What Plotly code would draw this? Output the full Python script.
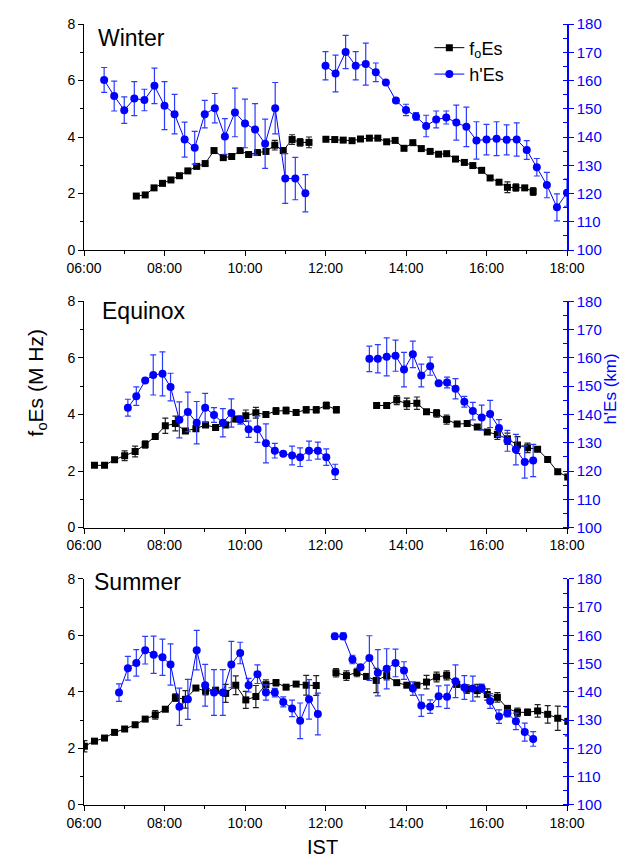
import plotly.graph_objects as go

# ---------------- data ----------------
ticks_hours = [6, 8, 10, 12, 14, 16, 18]
tick_labels = ["06:00", "08:00", "10:00", "12:00", "14:00", "16:00", "18:00"]
seasons = ["Winter", "Equinox", "Summer"]

# Winter
w_fo_t = [7.30, 7.52, 7.74, 7.95, 8.16, 8.37, 8.58, 8.80, 9.01, 9.23, 9.46, 9.67, 9.88, 10.09, 10.31, 10.52, 10.74, 10.95, 11.17, 11.37, 11.59, None,
          12.01, 12.23, 12.44, 12.66, 12.87, 13.09, 13.30, 13.52, 13.73, 13.95, 14.17, 14.38, 14.60, 14.81, 15.01, 15.23, 15.45, 15.66, 15.88, 16.09, 16.31, 16.52, 16.73, 16.95, 17.16]
w_fo = [1.91, 1.95, 2.20, 2.36, 2.48, 2.63, 2.80, 2.96, 3.06, 3.52, 3.27, 3.31, 3.52, 3.38, 3.45, 3.49, 3.71, 3.52, 3.91, 3.81, 3.81, None,
        3.92, 3.91, 3.89, 3.87, 3.93, 3.96, 3.96, 3.83, 3.88, 3.60, 3.80, 3.59, 3.49, 3.39, 3.41, 3.22, 3.10, 2.99, 2.82, 2.55, 2.40, 2.22, 2.21, 2.20, 2.07]
w_fo_err = [0.04, 0.04, 0.04, 0.04, 0.04, 0.04, 0.04, 0.04, 0.04, 0.04, 0.05, 0.04, 0.04, 0.05, 0.05, 0.08, 0.17, 0.10, 0.17, 0.13, 0.19, 0,
            0.04, 0.04, 0.04, 0.04, 0.04, 0.04, 0.04, 0.04, 0.04, 0.04, 0.04, 0.04, 0.04, 0.04, 0.04, 0.04, 0.04, 0.04, 0.04, 0.04, 0.04, 0.19, 0.13, 0.07, 0.14]
w_h_t = [6.50, 6.75, 7.00, 7.25, 7.50, 7.75, 8.00, 8.25, 8.50, 8.75, 9.00, 9.25, 9.50, 9.75, 10.00, 10.25, 10.50, 10.75, 11.00, 11.25, 11.50, None,
         12.00, 12.25, 12.50, 12.75, 13.00, 13.25, 13.50, 13.75, 14.00, 14.25, 14.50, 14.75, 15.00, 15.25, 15.50, 15.75, 16.00, 16.25, 16.50, 16.75, 17.00, 17.25, 17.50, 17.75, 18.00]
w_h = [160.2, 154.5, 149.5, 153.6, 153.1, 158.1, 151.1, 148.1, 139.1, 136.2, 148.1, 150.2, 140.2, 148.7, 144.8, 142.7, 137.6, 150.2, 125.3, 125.3, 120.1, None,
       165.2, 162.5, 170.1, 165.2, 165.8, 162.9, 159.3, 152.9, 149.6, 147.3, 143.9, 146.2, 146.9, 145.1, 143.6, 138.8, 139.1, 139.4, 139.0, 139.1, 135.4, 129.3, 123.0, 115.1, 120.3]
w_h_err = [4.4, 5.3, 4.7, 6.0, 3.8, 6.3, 8.5, 7.0, 6.2, 5.8, 4.9, 5.2, 6.3, 8.6, 8.6, 9.1, 8.7, 9.1, 8.8, 7.5, 6.6, 0,
           5.0, 6.5, 5.9, 5.0, 7.4, 3.3, 0, 0, 2.0, 1.3, 3.8, 3.0, 2.3, 6.2, 7.0, 6.6, 5.4, 6.0, 5.3, 5.9, 3.3, 3.1, 4.5, 4.8, 4.8]

# Equinox
e_fo_t = [6.26, 6.51, 6.76, 7.01, 7.27, 7.52, 7.77, 8.02, 8.27, 8.52, 8.78, 9.02, 9.27, 9.52, 9.77, 10.02, 10.27, 10.52, 10.77, 11.02, 11.27, 11.52, 11.77, 12.02, 12.27, None,
          13.27, 13.52, 13.77, 14.02, 14.27, 14.51, 14.76, 15.01, 15.27, 15.52, 15.77, 16.02, 16.27, 16.52, 16.77, 17.02, 17.27, 17.52, 17.77, 18.02]
e_fo = [2.20, 2.20, 2.40, 2.54, 2.69, 2.94, 3.22, 3.60, 3.68, 3.42, 3.50, 3.63, 3.54, 3.63, 3.84, 3.96, 4.06, 4.00, 4.12, 4.14, 4.07, 4.17, 4.17, 4.32, 4.17, None,
        4.32, 4.32, 4.51, 4.38, 4.40, 4.10, 4.04, 3.82, 3.66, 3.68, 3.56, 3.38, 3.29, 3.14, 2.92, 2.82, 2.77, 2.41, 1.97, 1.79]
e_fo_err = [0.05, 0.05, 0.05, 0.17, 0.19, 0.13, 0.05, 0.27, 0.26, 0.05, 0.10, 0.09, 0.05, 0.09, 0.09, 0.20, 0.19, 0.05, 0.12, 0.12, 0.05, 0.11, 0.11, 0.12, 0.11, 0,
            0.05, 0.05, 0.16, 0.20, 0.22, 0.05, 0.13, 0.16, 0.05, 0.05, 0.05, 0.05, 0.17, 0.20, 0.30, 0.17, 0.05, 0.05, 0.05, 0.05]
e_h_t = [7.09, 7.30, 7.52, 7.72, 7.95, 8.15, 8.37, 8.58, 8.80, 9.01, 9.23, 9.45, 9.66, 9.88, 10.09, 10.31, 10.52, 10.74, 10.95, 11.17, 11.37, 11.59, 11.81, 12.02, 12.24, None,
         13.09, 13.30, 13.52, 13.74, 13.95, 14.17, 14.38, 14.60, 14.81, 15.02, 15.23, 15.45, 15.66, 15.88, 16.09, 16.31, 16.52, 16.73, 16.95, 17.16]
e_h = [142.4, 146.5, 152.0, 154.0, 154.4, 149.7, 138.1, 140.9, 137.1, 142.4, 139.8, 137.1, 140.5, 138.1, 134.8, 134.8, 129.8, 127.2, 126.1, 125.5, 124.9, 127.2, 127.2, 124.9, 119.7, None,
       159.7, 159.7, 160.4, 160.8, 155.9, 161.3, 153.8, 157.1, 151.1, 151.3, 149.1, 144.5, 141.2, 138.9, 140.2, 135.2, 130.7, 127.6, 123.2, 123.7]
e_h_err = [3.0, 3.3, 0.5, 7.1, 7.8, 4.9, 6.4, 7.0, 7.5, 5.1, 2.6, 5.0, 5.0, 1.5, 2.9, 4.7, 6.9, 2.6, 0.5, 3.3, 3.3, 3.4, 3.0, 2.9, 2.7, 0,
           4.5, 5.0, 6.7, 5.5, 6.1, 4.7, 4.0, 3.2, 0.5, 1.9, 3.6, 1.9, 3.1, 4.4, 4.8, 3.0, 3.7, 5.4, 5.7, 5.7]

# Summer
s_fo_t = [6.01, 6.26, 6.51, 6.76, 7.01, 7.27, 7.52, 7.77, 8.02, 8.27, 8.52, 8.78, 9.02, 9.27, 9.52, 9.77, 10.02, 10.27, 10.52, 10.77, 11.02, 11.27, 11.52, 11.77, None,
          12.26, 12.52, 12.78, 13.02, 13.26, 13.52, 13.77, 14.02, 14.27, 14.51, 14.76, 15.01, 15.26, 15.51, 15.77, 16.02, 16.27, 16.52, 16.77, 17.02, 17.27, 17.52, 17.77, 18.02]
s_fo = [2.08, 2.26, 2.37, 2.57, 2.69, 2.84, 3.04, 3.19, 3.39, 3.80, 3.74, 4.14, 4.03, 4.06, 3.95, 4.24, 3.72, 3.84, 4.26, 4.33, 4.17, 4.28, 4.24, 4.23, None,
        4.68, 4.58, 4.69, 4.55, 4.41, 4.58, 4.33, 4.24, 4.24, 4.35, 4.53, 4.59, 4.27, 4.10, 4.05, 3.91, 3.81, 3.42, 3.28, 3.28, 3.33, 3.21, 3.07, 2.96]
s_fo_err = [0.20, 0.05, 0.05, 0.05, 0.05, 0.05, 0.05, 0.15, 0.05, 0.13, 0.31, 0.07, 0.13, 0.10, 0.32, 0.33, 0.30, 0.39, 0.17, 0.11, 0.05, 0.05, 0.35, 0.35, 0,
            0.15, 0.17, 0.15, 0.05, 0.43, 0.15, 0.05, 0.05, 0.05, 0.24, 0.17, 0.16, 0.10, 0.15, 0.22, 0.20, 0.17, 0.09, 0.15, 0.11, 0.22, 0.31, 0.43, 0.51]
s_h_t = [6.87, 7.09, 7.30, 7.52, 7.73, 7.95, 8.15, 8.37, 8.58, 8.80, 9.01, 9.23, 9.45, 9.66, 9.88, 10.09, 10.31, 10.52, 10.74, 10.95, 11.17, 11.37, 11.59, 11.81, None,
         12.23, 12.44, 12.67, 12.87, 13.09, 13.30, 13.52, 13.74, 13.95, 14.17, 14.38, 14.60, 14.81, 15.02, 15.23, 15.45, 15.66, 15.88, 16.09, 16.31, 16.52, 16.73, 16.95, 17.16]
s_h = [139.8, 148.4, 150.3, 154.8, 153.2, 152.3, 149.7, 134.8, 137.4, 154.8, 142.4, 139.8, 139.8, 149.7, 153.8, 142.4, 146.3, 139.8, 139.8, 136.5, 134.2, 129.8, 137.4, 132.2, None,
       159.7, 159.7, 151.5, 148.8, 152.0, 146.8, 148.2, 150.3, 147.6, 141.2, 135.2, 134.8, 138.5, 138.3, 143.8, 141.6, 141.2, 141.4, 136.8, 131.3, 132.5, 129.6, 125.8, 123.4]
s_h_err = [3.1, 4.2, 4.7, 4.9, 6.6, 6.4, 7.3, 6.6, 7.1, 7.0, 7.4, 8.1, 8.1, 8.2, 3.8, 2.4, 3.3, 2.7, 1.5, 1.8, 2.9, 6.3, 7.0, 7.4, 0,
           1.1, 1.2, 1.5, 0.5, 7.9, 8.2, 7.1, 4.9, 3.1, 2.4, 3.8, 2.4, 3.7, 4.1, 5.8, 4.2, 4.4, 1.4, 2.6, 2.4, 1.3, 2.9, 3.2, 2.6]

panels = [
    (w_fo_t, w_fo, w_fo_err, w_h_t, w_h, w_h_err),
    (e_fo_t, e_fo, e_fo_err, e_h_t, e_h, e_h_err),
    (s_fo_t, s_fo, s_fo_err, s_h_t, s_h, s_h_err),
]

# ---------------- figure ----------------
FONT = "Liberation Sans, Arial, sans-serif"
BLUE = "#0000FF"
EBLUE = "#2a3cff"
domains = [[0.7106, 1.0], [0.3553, 0.6447], [0.0, 0.2894]]

fig = go.Figure()
for i, (ft, fv, fe, ht, hv, he) in enumerate(panels):
    xa = "x" if i == 0 else f"x{i+1}"
    yl = "y" if i == 0 else f"y{2*i+1}"
    yr = f"y{2*i+2}"
    fig.add_trace(go.Scatter(
        x=ft, y=fv, xaxis=xa, yaxis=yl, mode="lines+markers",
        name="f<sub>o</sub>Es", showlegend=(i == 0), connectgaps=False,
        line=dict(color="black", width=1),
        marker=dict(symbol="square", size=7, color="black"),
        error_y=dict(type="data", array=fe, color="#222222", thickness=1.2, width=3),
    ))
    fig.add_trace(go.Scatter(
        x=ht, y=hv, xaxis=xa, yaxis=yr, mode="lines+markers",
        name="h'Es", showlegend=(i == 0), connectgaps=False,
        line=dict(color=BLUE, width=1),
        marker=dict(symbol="circle", size=8, color=BLUE),
        error_y=dict(type="data", array=he, color=EBLUE, thickness=1.2, width=3),
    ))

layout = dict(
    width=624, height=854,
    margin=dict(l=76, r=65, t=7, b=57),
    paper_bgcolor="white", plot_bgcolor="white",
    font=dict(family=FONT, size=14, color="black"),
    legend=dict(x=0.715, y=0.993, xanchor="left", yanchor="top",
                font=dict(size=18, family=FONT), bgcolor="rgba(0,0,0,0)",
                tracegroupgap=0, itemwidth=30),
)
for i, dom in enumerate(domains):
    xkey = "xaxis" if i == 0 else f"xaxis{i+1}"
    ylkey = "yaxis" if i == 0 else f"yaxis{2*i+1}"
    yrkey = f"yaxis{2*i+2}"
    yl_id = "y" if i == 0 else f"y{2*i+1}"
    xa_id = "x" if i == 0 else f"x{i+1}"
    layout[xkey] = dict(
        domain=[0, 1], anchor=yl_id, range=[6, 18],
        tickmode="array", tickvals=ticks_hours, ticktext=tick_labels,
        ticks="outside", ticklen=5, tickwidth=1, tickcolor="black",
        minor=dict(dtick=1, tick0=6, ticks="outside", ticklen=3, tickcolor="black"),
        showline=True, linecolor="black", linewidth=1,
        showgrid=False, zeroline=False, tickfont=dict(size=14, color="black"),
    )
    layout[ylkey] = dict(
        domain=dom, anchor=xa_id, range=[0, 8], dtick=2, tick0=0,
        ticks="outside", ticklen=5, tickcolor="black",
        minor=dict(dtick=1, ticks="outside", ticklen=3, tickcolor="black"),
        showline=True, linecolor="black", linewidth=1,
        showgrid=False, zeroline=False, tickfont=dict(size=14, color="black"),
    )
    layout[yrkey] = dict(
        overlaying=yl_id, anchor=xa_id, side="right", range=[100, 180], dtick=10, tick0=100,
        ticks="outside", ticklen=5, tickcolor=BLUE,
        minor=dict(dtick=5, ticks="inside", ticklen=4, tickcolor=BLUE),
        showline=True, linecolor=BLUE, linewidth=1.5,
        showgrid=False, zeroline=False, tickfont=dict(size=15, color=BLUE),
    )
fig.update_layout(**layout)

ann = [
    dict(text="Winter", x=0.024, y=0.982, xanchor="left", yanchor="middle"),
    dict(text="Equinox", x=0.033, y=0.633, xanchor="left", yanchor="middle"),
    dict(text="Summer", x=0.017, y=0.286, xanchor="left", yanchor="middle"),
]
for a in ann:
    fig.add_annotation(xref="paper", yref="paper", showarrow=False,
                       font=dict(size=23, family=FONT, color="black"), **a)

fig.add_annotation(xref="paper", yref="paper", x=-0.128, y=0.54, showarrow=False,
                   text="f<sub>o</sub>Es (M Hz)", textangle=-90,
                   font=dict(size=21, family=FONT, color="black"))
fig.add_annotation(xref="paper", yref="paper", x=1.113, y=0.532, showarrow=False,
                   text="h'Es (km)", textangle=-90,
                   font=dict(size=17, family=FONT, color=BLUE))
fig.add_annotation(xref="paper", yref="paper", x=0.493, y=-0.054, showarrow=False,
                   text="IST", yanchor="middle",
                   font=dict(size=20, family="Liberation Sans Narrow, Arial Narrow, " + FONT, color="black"))

fig.write_html("out.html")
